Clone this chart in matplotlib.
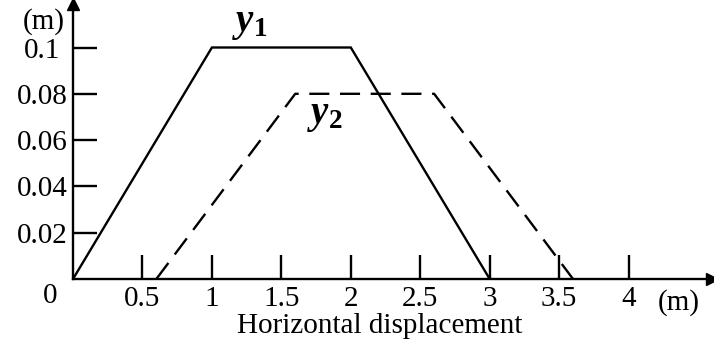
import matplotlib.pyplot as plt

plt.rcParams['font.family'] = ['Liberation Serif', 'DejaVu Serif']
plt.rcParams['mathtext.fontset'] = 'custom'
plt.rcParams['mathtext.rm'] = 'Liberation Serif'
plt.rcParams['mathtext.it'] = 'Liberation Serif:italic:bold'
plt.rcParams['mathtext.bf'] = 'Liberation Serif:bold'

# displacement profiles (x in m, y in m)
y1_x = [0, 1, 2, 3]
y1_y = [0, 0.1, 0.1, 0]
y2_x = [0.6, 1.6, 2.6, 3.6]
y2_y = [0, 0.08, 0.08, 0]

xticks = [0.5, 1, 1.5, 2, 2.5, 3, 3.5, 4]
xtick_labels = ['0.5', '1', '1.5', '2', '2.5', '3', '3.5', '4']
yticks = [0.02, 0.04, 0.06, 0.08, 0.1]
ytick_labels = ['0.02', '0.04', '0.06', '0.08', '0.1']

W, H = 714, 349
fig = plt.figure(figsize=(W / 100, H / 100), dpi=100)
ox, oy = 73, 279
ax = fig.add_axes([ox / W, 1 - oy / H, (W - 2 - ox) / W, (oy - 4) / H])
ax.set_xlim(0, (W - 2 - ox) / 138.9)
ax.set_ylim(0, (oy - 4) / 2315)

ax.plot(y1_x, y1_y, color='black', lw=1.7, solid_joinstyle='miter')
ax.plot(y2_x, y2_y, color='black', lw=1.7, dashes=(8.5, 4.5))

for s in ['top', 'right']:
    ax.spines[s].set_visible(False)
for s in ['left', 'bottom']:
    ax.spines[s].set_linewidth(1.7)

# arrow heads on the axes
ax.plot(1, 0, marker='>', ms=9, color='black', transform=ax.transAxes, clip_on=False)
ax.plot(0, 1, marker='^', ms=9, color='black', transform=ax.transAxes, clip_on=False)

ax.set_xticks(xticks)
ax.set_xticklabels(xtick_labels)
ax.set_yticks(yticks)
ax.set_yticklabels(ytick_labels)
ax.tick_params(axis='both', direction='in', length=17.5, width=1.7, labelsize=21)
ax.tick_params(axis='x', pad=5)
ax.tick_params(axis='y', pad=22)
for lab in ax.get_yticklabels():
    lab.set_ha('center')

fig.text(50 / W, 1 - 296 / H, '0', fontsize=21, ha='center', va='center')
fig.text(44 / W, 1 - 22 / H, '(m)', fontsize=21, ha='center', va='center')
fig.text(679 / W, 1 - 303 / H, '(m)', fontsize=21, ha='center', va='center')
fig.text(380 / W, 1 - 326 / H, 'Horizontal displacement', fontsize=21,
         ha='center', va='center')

ax.text(1.27, 0.1105, r'$y_{\mathbf{1}}$', fontsize=28, ha='center', va='center')
ax.text(1.81, 0.0705, r'$y_{\mathbf{2}}$', fontsize=28, ha='center', va='center')

fig.savefig('out.png', dpi=100)
